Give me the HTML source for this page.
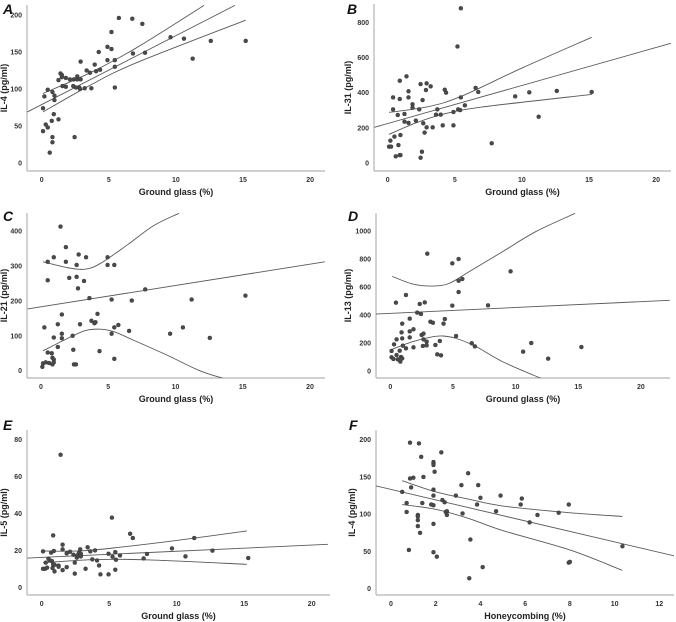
<!DOCTYPE html>
<html><head><meta charset="utf-8">
<style>
html,body{margin:0;padding:0;background:#fff;}
svg{display:block;font-family:"Liberation Sans",Arial,sans-serif;}
.tick{font-size:7px;font-weight:bold;fill:#333;}
.ttl{font-size:9px;font-weight:bold;fill:#222;}
.lt{font-size:14px;font-weight:bold;font-style:italic;fill:#111;}
</style></head>
<body>
<svg id="fig" width="676" height="622" viewBox="0 0 676 622" xmlns="http://www.w3.org/2000/svg"></svg>
<script>
// ---------- Data ----------
const aX=[0.1,0.2,0.45,0.1,0.3,0.45,0.6,0.75,0.8,0.9,0.95,0.95,0.8,0.8,1.25,1.25,1.4,1.5,1.5,1.55,1.8,1.8,2.1,2.35,2.4,2.45,2.55,2.65,2.65,2.8,2.85,2.9,2.9,3.2,3.35,3.6,3.7,3.95,4.05,4.25,4.35,4.9,4.9,5.2,5.2,5.45,5.45,5.45,5.75,6.75,6.8,7.5,7.7,9.6,10.6,11.25,12.6,15.2];
const aY=[74,90,99,43,52,48,14,57,96,66,91,85,35,28,112,59,121,119,116,104,115,103,113,104,113,35,102,117,113,102,100,113,137,101,125,122,101,133,124,150,126,139,157,154,177,139,130,102,196,195,148,188,149,170,168,141,165,165];
const aRegX=[-1.07,14.4], aRegY=[69,213];
const aUpX=[0.1,3.5,7,12.1], aUpY=[94,121,155,213];
const aLoX=[0.1,3.5,7,15.2], aLoY=[69,104,135,193];

const bX=[0.1,0.25,0.2,0.4,0.4,0.5,0.6,0.75,0.8,0.9,0.95,0.9,0.9,0.95,1.25,1.25,1.4,1.55,1.55,1.55,1.85,1.85,2.1,2.35,2.45,2.45,2.55,2.6,2.65,2.75,2.85,2.9,2.9,3.2,3.35,3.6,3.7,3.95,4.1,4.25,4.35,4.9,4.9,5.2,5.25,5.4,5.45,5.45,5.75,6.55,6.75,7.75,9.5,10.55,11.25,12.6,15.2];
const bY=[93,93,127,373,305,150,38,273,102,45,45,468,364,159,279,235,493,408,373,228,334,315,241,305,449,30,64,358,226,173,415,203,453,436,203,275,305,275,214,417,400,214,290,663,305,301,880,373,328,427,404,112,379,402,263,410,404];
const bRegX=[-1.0,21.1], bRegY=[203,681];
const bUpX=[0.1,3,5.5,10,15.2], bUpY=[288,320,380,540,715];
const bLoX=[0.1,2,4,7,15.2], bLoY=[163,225,275,318,390];

const cX=[0.1,0.15,0.25,0.35,0.5,0.5,0.5,0.6,0.8,0.85,0.85,0.95,0.95,0.95,0.95,1.25,1.25,1.45,1.55,1.55,1.55,1.85,1.85,2.1,2.35,2.4,2.45,2.6,2.65,2.65,2.75,2.8,2.9,3.2,3.35,3.6,3.75,3.97,4.05,4.2,4.35,4.95,4.95,5.25,5.25,5.45,5.45,5.45,5.75,6.55,6.75,7.75,9.6,10.55,11.2,12.55,15.2];
const cY=[11,21,124,24,52,259,312,22,50,37,18,32,24,325,95,133,68,413,161,106,93,354,312,266,100,60,18,18,303,269,236,333,133,257,325,208,143,136,139,163,56,325,303,204,106,303,124,34,131,114,201,233,106,124,204,94,215];
const cRegX=[-1.0,21.1], cRegY=[177,312];
const cUpX=[0.15,2.0,3.3,4.4,6.4,8.35,10.25], cUpY=[312,295,291,307,360,415,451];
const cLoX=[0.15,2,3.3,4.4,5.4,6.85,9.35,11.8,13.55], cLoY=[57,93,115,119,112,88,45,0,-22];

const dX=[0.1,0.1,0.25,0.3,0.45,0.5,0.5,0.6,0.75,0.8,0.85,0.9,0.95,0.95,1.0,0.95,1.25,1.25,1.55,1.55,1.55,1.85,1.85,2.15,2.35,2.45,2.5,2.6,2.65,2.65,2.75,2.9,2.9,2.95,3.2,3.4,3.6,3.75,3.95,4.05,4.25,4.35,4.95,4.95,5.25,5.45,5.45,5.45,5.75,6.5,6.75,7.8,9.6,10.6,11.25,12.6,15.25];
const dY=[143,98,86,190,488,226,114,83,145,67,100,276,338,233,181,90,162,543,374,283,240,298,169,417,479,407,257,179,267,226,490,210,183,838,352,345,186,119,214,112,338,371,769,467,250,800,645,564,657,198,176,469,712,138,200,88,171];
const dRegX=[-1.15,22.3], dRegY=[407,505];
const dUpX=[0.15,1.8,3.4,4.7,6.3,8.95,11.6,14.75], dUpY=[676,621,607,626,710,852,995,1126];
const dLoX=[0.15,1.8,3.4,4.2,5.25,6.85,8.95,12.15], dLoY=[155,210,245,250,233,174,67,-57];

const eX=[0.1,0.1,0.25,0.3,0.4,0.5,0.6,0.7,0.75,0.8,0.85,0.85,0.9,0.95,0.95,1.25,1.25,1.4,1.55,1.55,1.55,1.85,1.85,2.1,2.35,2.45,2.45,2.6,2.65,2.75,2.85,2.9,2.9,3.25,3.4,3.6,3.75,3.95,4.1,4.25,4.35,4.95,4.95,5.2,5.25,5.45,5.5,5.45,5.8,6.55,6.75,7.55,7.8,9.65,10.65,11.3,12.65,15.3];
const eY=[10.2,19.6,10.2,13.5,10.8,15.6,14.7,18.9,14.4,10.6,12.6,28.2,19.8,12.4,8.8,11.9,11.3,71.7,23.2,20.7,9.5,11.1,18.5,19.4,17.8,13.5,7.6,16.2,17.4,18.7,20.7,18.3,16.9,10.2,21.8,19.6,15.3,20.1,14.7,12.0,7.2,18.3,7.2,37.8,16.7,19.2,15.1,9.7,17.4,29.1,26.8,15.8,18.2,21.2,16.9,26.8,20.0,16.0];
const eRegX=[-1.05,21.2], eRegY=[16.0,23.4];
const eUpX=[0.1,3,6,10,15.2], eUpY=[19.8,19.9,22,25.5,30.6];
const eLoX=[0.1,4,8,15.2], eLoY=[13.5,15.2,15,12.6];

const fX=[0.5,0.7,0.7,0.8,0.85,0.85,0.9,1.0,1.2,1.2,1.2,1.2,1.25,1.3,1.35,1.4,1.45,1.8,1.9,1.9,1.9,1.9,1.9,1.9,1.9,1.95,1.9,2.05,2.25,2.3,2.4,2.45,2.5,2.5,2.9,3.15,3.2,3.45,3.5,3.55,3.85,3.9,4.0,4.1,4.7,4.9,5.8,5.85,6.2,6.55,7.5,7.95,7.95,8.0,10.35];
const fY=[130,115,103,52,196,148,136,149,99,97,92,84,195,75,177,115,150,113,87,133,112,125,170,168,166,157,49,43,183,119,116,103,104,99,125,139,101,155,14,66,113,139,122,29,104,125,113,121,89,99,102,113,35,36,57];
const fRegX=[-0.67,12.67], fRegY=[138,44];
const fUpX=[0.5,2,3.5,5,7.97,10.35], fUpY=[145,130,120,111,102,97];
const fLoX=[0.5,2,3.5,5,8,10.35], fLoY=[113,106.5,94,78,52,24.6];

const ggTicks=[0,5,10,15,20];
const hcTicks=[0,2,4,6,8,10,12];

// ---------- Layout ----------
const panels=[
 {id:'a',letter:'A',ytitle:'IL-4 (pg/ml)',xtitle:'Ground glass (%)',ax:27,bottom:171,right:325,top:5,x0:41.7,xs:13.42,y0:163,ys:0.74,xt:ggTicks,yt:[0,50,100,150,200],ytx:7,lx:3,ly:14,xs2:aX,ys2:aY,lines:[[aRegX,aRegY],[aUpX,aUpY],[aLoX,aLoY]]},
 {id:'b',letter:'B',ytitle:'IL-31 (pg/ml)',xtitle:'Ground glass (%)',ax:374,bottom:171,right:671,top:4,x0:387.7,xs:13.42,y0:163,ys:0.1758,xt:ggTicks,yt:[0,200,400,600,800],ytx:351,lx:347,ly:14,xs2:bX,ys2:bY,lines:[[bRegX,bRegY],[bUpX,bUpY],[bLoX,bLoY]]},
 {id:'c',letter:'C',ytitle:'IL-21 (pg/ml)',xtitle:'Ground glass (%)',ax:27,bottom:378,right:325,top:213,x0:41,xs:13.45,y0:370.7,ys:0.349,xt:ggTicks,yt:[0,100,200,300,400],ytx:7,lx:3,ly:221,xs2:cX,ys2:cY,lines:[[cRegX,cRegY],[cUpX,cUpY],[cLoX,cLoY]]},
 {id:'d',letter:'D',ytitle:'IL-13 (pg/ml)',xtitle:'Ground glass (%)',ax:376,bottom:378,right:670,top:213,x0:390.3,xs:12.53,y0:371,ys:0.14,xt:ggTicks,yt:[0,200,400,600,800,1000],ytx:351,lx:348,ly:221,xs2:dX,ys2:dY,lines:[[dRegX,dRegY],[dUpX,dUpY],[dLoX,dLoY]]},
 {id:'e',letter:'E',ytitle:'IL-5 (pg/ml)',xtitle:'Ground glass (%)',ax:27,bottom:595,right:330,top:430,x0:41.7,xs:13.5,y0:587.7,ys:1.854,xt:ggTicks,yt:[0,20,40,60,80],ytx:7,lx:3,ly:430,xs2:eX,ys2:eY,lines:[[eRegX,eRegY],[eUpX,eUpY],[eLoX,eLoY]]},
 {id:'f',letter:'F',ytitle:'IL-4 (pg/ml)',xtitle:'Honeycombing (%)',ax:376,bottom:595,right:674,top:430,x0:391,xs:22.36,y0:588.7,ys:0.745,xt:hcTicks,yt:[0,50,100,150,200],ytx:355,lx:349,ly:430,xs2:fX,ys2:fY,lines:[[fRegX,fRegY],[fUpX,fUpY],[fLoX,fLoY]]}
];

const NS='http://www.w3.org/2000/svg';
const svg=document.getElementById('fig');
function mk(tag,attrs,parent){const e=document.createElementNS(NS,tag);for(const k in attrs)e.setAttribute(k,attrs[k]);(parent||svg).appendChild(e);return e;}

function smoothPath(pts){
  if(pts.length===2)return 'M'+pts[0][0]+','+pts[0][1]+' L'+pts[1][0]+','+pts[1][1];
  let d='M'+pts[0][0]+','+pts[0][1];
  for(let i=0;i<pts.length-1;i++){
    const p0=pts[i-1]||pts[i],p1=pts[i],p2=pts[i+1],p3=pts[i+2]||p2;
    const c1=[p1[0]+(p2[0]-p0[0])/6,p1[1]+(p2[1]-p0[1])/6];
    const c2=[p2[0]-(p3[0]-p1[0])/6,p2[1]-(p3[1]-p1[1])/6];
    d+=' C'+c1[0].toFixed(2)+','+c1[1].toFixed(2)+' '+c2[0].toFixed(2)+','+c2[1].toFixed(2)+' '+p2[0].toFixed(2)+','+p2[1].toFixed(2);
  }
  return d;
}

panels.forEach(p=>{
  const sx=v=>p.x0+v*p.xs, sy=v=>p.y0-v*p.ys;
  const g=mk('g',{});
  
  
  const cp=mk('clipPath',{id:'clip-'+p.id},g);
  mk('rect',{x:p.ax,y:p.top,width:p.right-p.ax,height:p.bottom-p.top},cp);
  // axes
  const ya=mk('line',{x1:p.ax,y1:p.top,x2:p.ax,y2:p.bottom,stroke:'#b5b5b5','stroke-width':1.2},g);
  
  
  const xa=mk('line',{x1:p.ax,y1:p.bottom,x2:p.right,y2:p.bottom,stroke:'#b5b5b5','stroke-width':1.2},g);
  
  
  p.yt.forEach(t=>{
    const tx=mk('text',{x:p.ax-5,y:sy(t)+2.5,'text-anchor':'end',class:'tick'},g);
    tx.textContent=t;
    
    
  });
  p.xt.forEach(t=>{
    const tx=mk('text',{x:sx(t),y:p.bottom+11,'text-anchor':'middle',class:'tick'},g);
    tx.textContent=t;
    
    
  });
  const xt=mk('text',{x:(p.ax+p.right)/2,y:p.bottom+24,'text-anchor':'middle',class:'ttl'},g);
  xt.textContent=p.xtitle;
  
  
  const cy=(p.top+p.bottom)/2;
  const yt=mk('text',{x:p.ytx,y:cy,'text-anchor':'middle',class:'ttl',transform:'rotate(-90 '+p.ytx+' '+cy+')'},g);
  yt.textContent=p.ytitle;
  
  
  const lt=mk('text',{x:p.lx,y:p.ly,class:'lt'},g);
  lt.textContent=p.letter;
  
  
  // lines
  const lg=mk('g',{'clip-path':'url(#clip-'+p.id+')'},g);
  p.lines.forEach((ln,i)=>{
    const pts=ln[0].map((v,j)=>[sx(v),sy(ln[1][j])]);
    const path=mk('path',{d:smoothPath(pts),fill:'none',stroke:'#5a5a5a','stroke-width':0.9},lg);
    
    
  });
  // points
  p.xs2.forEach((v,i)=>{
    const c=mk('circle',{cx:sx(v),cy:sy(p.ys2[i]),r:2,fill:'#4a4a4a',stroke:'#333','stroke-width':0.4},g);
    
    
  });
});
</script>
</body></html>
